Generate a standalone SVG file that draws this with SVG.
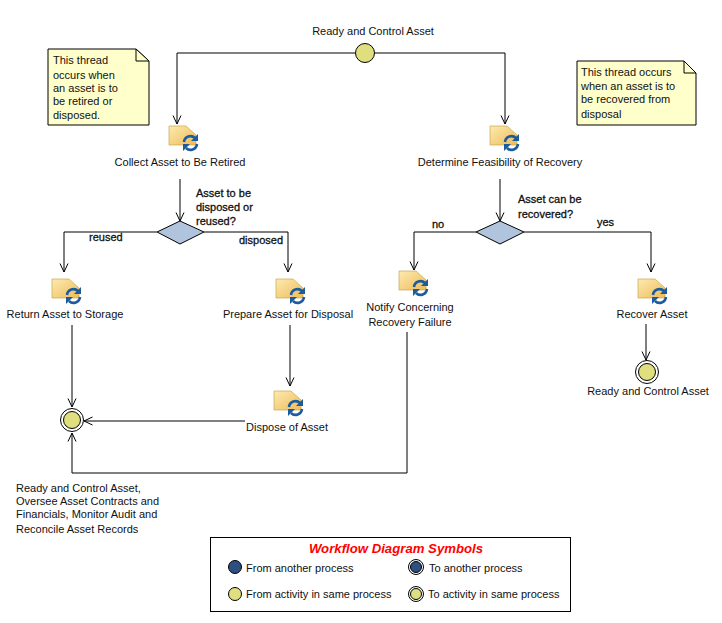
<svg xmlns="http://www.w3.org/2000/svg" width="722" height="623" viewBox="0 0 722 623">
<style>
text{font-family:"Liberation Sans",Arial,sans-serif;font-size:11px;fill:#111}
.c{text-anchor:middle}
.b{stroke:#111;stroke-width:.3}
.ln{fill:none;stroke:#000;stroke-width:1}
.note{fill:#ffffcc;stroke:#000;stroke-width:1}
.fold{fill:#ffffcc;stroke:#000;stroke-width:1}
.y{fill:#dfdf80;stroke:#000;stroke-width:1}
.n{fill:#2f4f80;stroke:#000;stroke-width:1}
.ring{fill:#fff;stroke:#000;stroke-width:1}
.dia{fill:#b0c4de;stroke:#000;stroke-width:1}
.doc{fill:url(#g);stroke:#c8a850;stroke-width:.7}
.sync{fill:none;stroke:#1c5c9e;stroke-width:2.600}
</style>
<defs>
<marker id="a" viewBox="0 0 10 10" refX="9.500" refY="5" markerWidth="10" markerHeight="10" markerUnits="userSpaceOnUse" orient="auto"><path d="M1 1L9.500 5L1 9" fill="none" stroke="#000" stroke-width="1"/></marker>
<linearGradient id="g" x1="0" y1="0" x2="1" y2="1"><stop offset="0" stop-color="#fdeab0"/><stop offset="1" stop-color="#eebc58"/></linearGradient>
<g id="act">
<path class="doc" d="M0 0H17L27 9V19H0Z"/>
<path class="sync" d="M15 16A6.500 6.500 0 0 1 26 12"/>
<path d="M29 8V15H22Z" fill="#1c5c9e"/>
<path class="sync" d="M28 18A6.500 6.500 0 0 1 17 22"/>
<path d="M14 25V18H21Z" fill="#1c5c9e"/>
</g>
</defs>
<rect width="722" height="623" fill="#fff"/>
<g id="connectors">
<path class="ln" marker-end="url(#a)" d="M355 53H177V124"/>
<path class="ln" marker-end="url(#a)" d="M375 53H505V124"/>
<path class="ln" marker-end="url(#a)" d="M180 179V221"/>
<path class="ln" marker-end="url(#a)" d="M500 179V221"/>
<path class="ln" marker-end="url(#a)" d="M157 232H64V272"/>
<path class="ln" marker-end="url(#a)" d="M204 232H288V272"/>
<path class="ln" marker-end="url(#a)" d="M476 232H414V270"/>
<path class="ln" marker-end="url(#a)" d="M524 232H651V272"/>
<path class="ln" marker-end="url(#a)" d="M290 325V386"/>
<path class="ln" marker-end="url(#a)" d="M646 324V360"/>
<path class="ln" marker-end="url(#a)" d="M72 325V407"/>
<path class="ln" marker-end="url(#a)" d="M245 421H84"/>
<path class="ln" marker-end="url(#a)" d="M407 332V473H72V433"/>
</g>
<g id="start"><circle class="y" cx="365" cy="53" r="9.500"/><text class="c" x="373" y="35">Ready and Control Asset</text></g>
<g id="note-left"><path class="note" d="M48 49H136L149 61V125H48Z"/><path class="fold" d="M136 49V61H149Z"/>
<text x="53" y="64">This thread</text><text x="53" y="79">occurs when</text><text x="53" y="92">an asset is to</text><text x="53" y="105">be retired or</text><text x="53" y="119">disposed.</text></g>
<g id="note-right"><path class="note" d="M577 61H684L696 73V125H577Z"/><path class="fold" d="M684 61V73H696Z"/>
<text x="581" y="76">This thread occurs</text><text x="581" y="90">when an asset is to</text><text x="581" y="103">be recovered from</text><text x="581" y="118">disposal</text></g>
<g id="collect"><use href="#act" x="169" y="126"/><text class="c" x="180" y="166">Collect Asset to Be Retired</text></g>
<g id="feasibility"><use href="#act" x="490" y="126"/><text class="c" x="500" y="166">Determine Feasibility of Recovery</text></g>
<g id="decision-left"><path class="dia" d="M180 221L204 232L180 244L157 232Z"/>
<text class="b" x="196" y="197">Asset to be</text><text class="b" x="196" y="211">disposed or</text><text class="b" x="196" y="225">reused?</text>
<text class="b" x="89" y="241">reused</text><text class="b" x="239" y="244">disposed</text></g>
<g id="decision-right"><path class="dia" d="M500 221L524 232L500 244L476 232Z"/>
<text class="b" x="518" y="203">Asset can be</text><text class="b" x="518" y="218">recovered?</text>
<text class="b" x="432" y="228">no</text><text class="b" x="597" y="226">yes</text></g>
<g id="return"><use href="#act" x="52" y="279"/><text class="c" x="65" y="318">Return Asset to Storage</text></g>
<g id="prepare"><use href="#act" x="276" y="279"/><text class="c" x="288" y="318">Prepare Asset for Disposal</text></g>
<g id="notify"><use href="#act" x="399" y="271"/><text class="c" x="410" y="311">Notify Concerning</text><text class="c" x="410" y="326">Recovery Failure</text></g>
<g id="recover"><use href="#act" x="638" y="279"/><text class="c" x="652" y="318">Recover Asset</text></g>
<g id="dispose"><use href="#act" x="274" y="391"/><text class="c" x="287" y="431">Dispose of Asset</text></g>
<g id="end-right"><circle class="ring" cx="647" cy="372" r="11.500"/><circle class="y" cx="647" cy="372" r="8.500"/><text class="c" x="648" y="395">Ready and Control Asset</text></g>
<g id="end-left"><circle class="ring" cx="72" cy="420" r="11.500"/><circle class="y" cx="72" cy="420" r="8.500"/>
<text x="16" y="492">Ready and Control Asset,</text><text x="16" y="505">Oversee Asset Contracts and</text><text x="16" y="518">Financials, Monitor Audit and</text><text x="16" y="533">Reconcile Asset Records</text></g>
<g id="legend"><rect x="210.500" y="537.500" width="360" height="74" fill="#fff" stroke="#000"/>
<text class="c" x="396" y="553" style="fill:#f00;font-style:italic;font-weight:bold;font-size:13.200px">Workflow Diagram Symbols</text>
<circle class="n" cx="235" cy="567" r="6.500"/><text x="246" y="572">From another process</text>
<circle class="ring" cx="416" cy="567" r="7.500"/><circle class="n" cx="416" cy="567" r="5.500"/><text x="429" y="572">To another process</text>
<circle class="y" cx="235" cy="594" r="6.500"/><text x="246" y="598">From activity in same process</text>
<circle class="ring" cx="416" cy="594" r="7.500"/><circle class="y" cx="416" cy="594" r="5.500"/><text x="428" y="598">To activity in same process</text></g>
</svg>
